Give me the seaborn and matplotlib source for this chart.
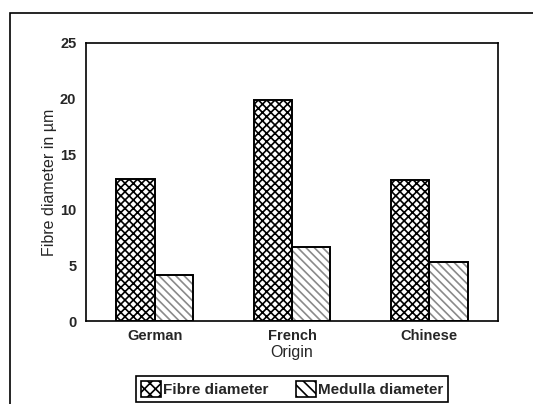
import matplotlib
matplotlib.use('Agg')
import matplotlib.pyplot as plt
import seaborn as sns
import pandas as pd
from matplotlib.patches import Rectangle
from matplotlib.ticker import FixedLocator

origins = ['German', 'French', 'Chinese']
fibre_diameter = [12.8, 19.9, 12.7]
medulla_diameter = [4.1, 6.7, 5.3]
series_names = ['Fibre diameter', 'Medulla diameter']
y_ticks = [0, 5, 10, 15, 20, 25]

df = pd.DataFrame({
    'origin': origins * 2,
    'diameter': fibre_diameter + medulla_diameter,
    'measure': [series_names[0]] * 3 + [series_names[1]] * 3,
})

sns.set_style('white')
plt.rcParams['font.family'] = ['Liberation Sans', 'DejaVu Sans']
plt.rcParams['hatch.linewidth'] = 1.2

fig = plt.figure(figsize=(5.33, 4.04), dpi=100)
ax = fig.add_axes([0.1614, 0.2054, 0.7729, 0.6882])

sns.barplot(data=df, x='origin', y='diameter', hue='measure', order=origins,
            hue_order=series_names, palette=['white', 'white'], width=0.56,
            edgecolor='black', linewidth=1.3, saturation=1, ax=ax)

hatches = {series_names[0]: 'xxxx', series_names[1]: '\\\\\\\\'}
hatch_colors = {series_names[0]: 'black', series_names[1]: '#8a8a8a'}
for container, name in zip(ax.containers, series_names):
    for bar in container:
        bar.set_hatch(hatches[name])
        bar.set_edgecolor(hatch_colors[name])
        bar.set_linewidth(0)
        b = bar.get_bbox()
        ax.add_patch(Rectangle((b.x0, b.y0), b.width, b.height, fill=False,
                               edgecolor='black', linewidth=1.4, zorder=bar.get_zorder() + 0.1))

ax.set_xlim(-0.5, 2.5)
ax.set_ylim(0, 25)
ax.set_yticks(y_ticks)
ax.xaxis.set_minor_locator(FixedLocator([-0.5, 0.5, 1.5, 2.5]))
ax.tick_params(axis='x', which='major', length=0, pad=6, labelsize=10.5)
ax.tick_params(axis='x', which='minor', direction='inout', length=7, width=1.2, color='black')
ax.tick_params(axis='y', which='major', direction='inout', length=6, width=1.2, color='black',
               labelsize=10.5, pad=4)
for lbl in ax.get_xticklabels() + ax.get_yticklabels():
    lbl.set_fontweight('bold')

for s in ax.spines.values():
    s.set_visible(True)
    s.set_color('black')
    s.set_linewidth(1.2)

ax.set_xlabel('Origin', fontsize=11.5, labelpad=1)
ax.set_ylabel('Fibre diameter in µm', fontsize=11.5, labelpad=2)

leg = ax.legend(loc='center', bbox_to_anchor=(0.548, 0.037), bbox_transform=fig.transFigure,
                ncol=2, frameon=True, fancybox=False, edgecolor='black', framealpha=1,
                handlelength=1.3, handleheight=1.3, handletextpad=0.15, columnspacing=1.8,
                borderpad=0.3, borderaxespad=0,
                prop={'weight': 'bold', 'size': 11})
leg.get_frame().set_linewidth(1.2)
for handle, name in zip(leg.legend_handles, series_names):
    handle.set_hatch(hatches[name][:3])
    handle.set_edgecolor('black')
    handle.set_linewidth(1.2)

# outer chart frame
fig.patches.append(Rectangle((0.019, -0.05), 1.1, 1.018, transform=fig.transFigure,
                             fill=False, edgecolor='black', linewidth=1.2))

fig.savefig('out.png', dpi=100)
